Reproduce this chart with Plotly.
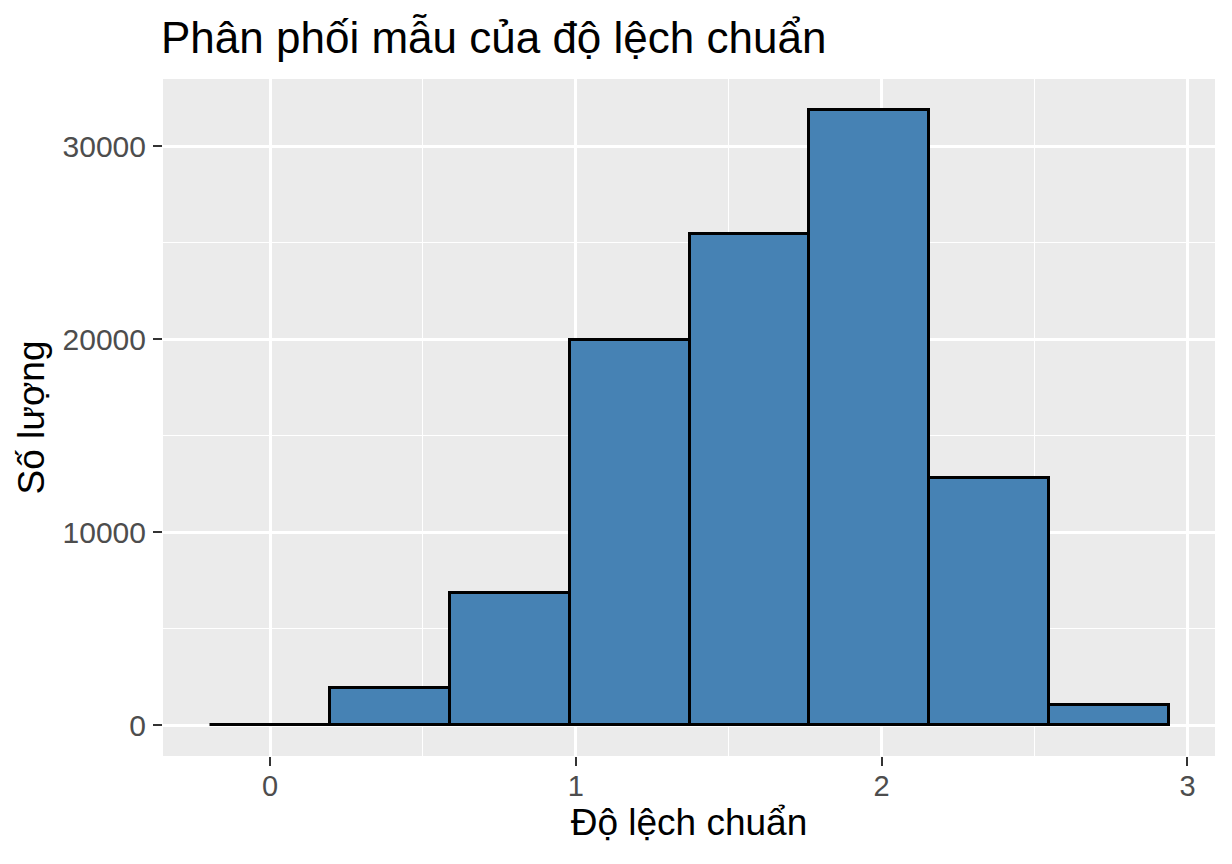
import plotly.graph_objects as go

# Data
bin_centers = [0.0, 0.392, 0.784, 1.176, 1.568, 1.960, 2.352, 2.744]
bin_width = 0.392
counts = [40, 1918, 6843, 19950, 25450, 31900, 12805, 1037]

x_ticks = [0, 1, 2, 3]
x_tick_labels = ["0", "1", "2", "3"]
y_ticks = [0, 10000, 20000, 30000]
y_tick_labels = ["0", "10000", "20000", "30000"]

title_text = "Phân phối mẫu của độ lệch chuẩn"
x_title = "Độ lệch chuẩn"
y_title = "Số lượng"

FONT = "Liberation Sans, Arial, sans-serif"
W, H = 1232, 864
ML, MR, MT, MB = 163, 17, 79, 108

fig = go.Figure()
fig.add_trace(go.Bar(
    x=bin_centers,
    y=counts,
    width=[bin_width] * len(bin_centers),
    marker=dict(color="#4682B4", line=dict(color="black", width=3)),
    hoverinfo="x+y",
))

fig.update_layout(
    width=W, height=H,
    margin=dict(l=ML, r=MR, t=MT, b=MB, pad=0),
    paper_bgcolor="white",
    plot_bgcolor="#EBEBEB",
    showlegend=False,
    bargap=0,
    font=dict(family=FONT, color="black"),
    title=dict(
        text=title_text,
        font=dict(family=FONT, size=44, color="black"),
        xref="container", yref="container",
        x=161 / W, xanchor="left",
        y=1 - 38 / H, yanchor="middle",
    ),
)

fig.update_xaxes(
    range=[-0.35, 3.09],
    tickmode="array", tickvals=x_ticks, ticktext=x_tick_labels,
    ticks="outside", ticklen=9, tickwidth=2, tickcolor="#333333",
    ticklabelstandoff=-5,
    tickfont=dict(family=FONT, size=29, color="#4D4D4D"),
    showgrid=True, gridcolor="white", gridwidth=2.5,
    minor=dict(dtick=0.5, tick0=0, showgrid=True, gridcolor="white", gridwidth=1.2, ticks=""),
    zeroline=False, showline=False,
    title=dict(text=x_title, font=dict(family=FONT, size=37, color="black"), standoff=2),
)

fig.update_yaxes(
    range=[-1591, 33490],
    tickmode="array", tickvals=y_ticks, ticktext=y_tick_labels,
    ticks="outside", ticklen=9, tickwidth=2, tickcolor="#333333",
    ticklabelstandoff=1,
    tickfont=dict(family=FONT, size=30, color="#4D4D4D"),
    showgrid=True, gridcolor="white", gridwidth=2.5,
    minor=dict(dtick=5000, tick0=0, showgrid=True, gridcolor="white", gridwidth=1.2, ticks=""),
    zeroline=False, showline=False,
    title=dict(text=y_title, font=dict(family=FONT, size=37, color="black"), standoff=6),
)

fig.write_html(
    "out.html",
    config={"displayModeBar": False},
    post_script="document.body.style.margin='0';document.body.style.overflow='hidden';",
)
